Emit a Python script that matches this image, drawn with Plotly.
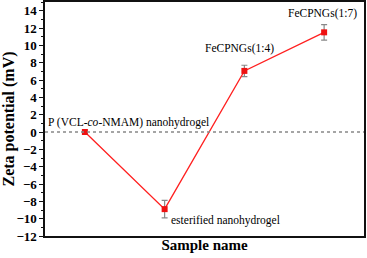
import plotly.graph_objects as go

samples = ["P (VCL-co-NMAM) nanohydrogel", "esterified nanohydrogel", "FeCPNGs(1:4)", "FeCPNGs(1:7)"]
zeta = [0.0, -8.9, 7.05, 11.5]
err = [0.0, 1.0, 0.65, 0.9]
xpos = [1, 2, 3, 4]
ytick_vals = list(range(-12, 15, 2))

FONT = "Liberation Serif"

fig = go.Figure()
fig.add_shape(type="line", xref="paper", yref="y", x0=0, x1=1, y0=0, y1=0,
              line=dict(color="#888888", width=1.5, dash="dot"))
fig.add_trace(go.Scatter(
    x=xpos, y=zeta, mode="lines+markers",
    line=dict(color="#ff2020", width=1.3),
    marker=dict(symbol="square", size=6, color="#ee1111"),
    error_y=dict(type="data", array=err, color="#888888", thickness=1.2, width=3),
    showlegend=False, hoverinfo="skip"))

labels = [
    dict(x=0.5, y=0, text="P (VCL-<i>co</i>-NMAM) nanohydrogel", xanchor="left", yanchor="bottom", xshift=1, yshift=1),
    dict(x=2, y=-8.9, text="esterified nanohydrogel", xanchor="left", yanchor="top", xshift=4, yshift=-3),
    dict(x=3, y=7.05, text="FeCPNGs(1:4)", xanchor="center", yanchor="bottom", xshift=-5, yshift=14),
    dict(x=4, y=11.5, text="FeCPNGs(1:7)", xanchor="center", yanchor="bottom", xshift=-2, yshift=10),
]
for a in labels:
    fig.add_annotation(x=a["x"], y=a["y"], text=a["text"], showarrow=False,
                       xanchor=a["xanchor"], yanchor=a["yanchor"],
                       xshift=a["xshift"], yshift=a["yshift"],
                       font=dict(family=FONT, size=11.5, color="black"))

fig.update_layout(
    width=367, height=258,
    margin=dict(l=45, r=3, t=2, b=22, autoexpand=False),
    paper_bgcolor="white", plot_bgcolor="white",
    font=dict(family=FONT, color="black"),
    xaxis=dict(range=[0.5, 4.5], showticklabels=False, ticks="", showgrid=False, automargin=False,
               zeroline=False, showline=True, linecolor="#111111", linewidth=1.6, mirror=True,
               title=dict(text="Sample name", font=dict(family=FONT, size=15, weight="bold"), standoff=3)),
    yaxis=dict(range=[-12, 15], tickmode="array", tickvals=ytick_vals,
               ticks="outside", ticklen=4, tickwidth=1, tickcolor="#111111", automargin=False,
               minor=dict(dtick=1, tick0=0, ticks="outside", ticklen=2, tickcolor="#111111", showgrid=False),
               showgrid=False, zeroline=False, showline=True, linecolor="#111111", linewidth=1.6,
               mirror=True, tickfont=dict(family=FONT, size=13, color="black", weight="bold"),
               title=dict(text="Zeta potential (mV)", font=dict(family=FONT, size=16, weight="bold"), standoff=0)),
)
fig.write_html("out.html", config={"displayModeBar": False, "staticPlot": True},
               post_script="document.body.style.margin='0';document.body.style.overflow='hidden';")
